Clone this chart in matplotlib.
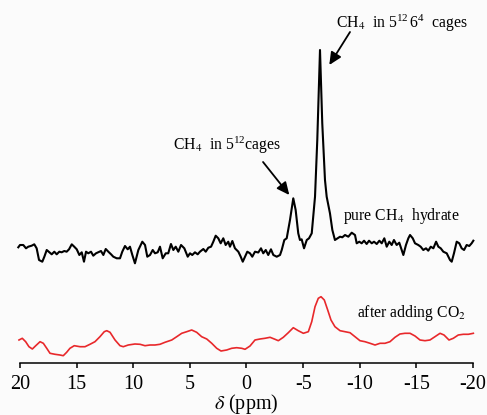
import matplotlib
matplotlib.use("Agg")
import matplotlib.pyplot as plt

plt.rcParams['font.family'] = ['Liberation Serif', 'DejaVu Serif']
plt.rcParams['mathtext.fontset'] = 'stix'

# ---------------- data ----------------
pure_ppm = [20.15, 20.00, 19.71, 19.47, 19.27, 18.97, 18.74, 18.53, 18.32, 18.03,
            17.85, 17.64, 17.41, 17.20, 16.97, 16.76, 16.53, 16.32, 16.09, 15.88,
            15.67, 15.43, 15.21, 14.99, 14.76, 14.55, 14.35, 14.17, 13.97, 13.73,
            13.53, 13.29, 13.09, 12.85, 12.64, 12.43, 12.20, 11.96, 11.76, 11.46,
            11.17, 10.97, 10.73, 10.49, 10.29, 10.08, 9.85, 9.55, 9.20, 8.96,
            8.76, 8.52, 8.28, 8.08, 7.84, 7.64, 7.40, 7.13, 6.91, 6.67,
            6.46, 6.25, 6.02, 5.78, 5.49, 5.19, 4.99, 4.79, 4.55, 4.31,
            4.11, 3.81, 3.60, 3.37, 3.13, 2.93, 2.72, 2.49, 2.28, 2.05,
            1.84, 1.61, 1.46, 1.25, 1.02, 0.72, 0.51, 0.33, 0.13, -0.07,
            -0.31, -0.51, -0.75, -1.04, -1.28, -1.48, -1.70, -1.92, -2.16, -2.37,
            -2.67, -2.96, -3.11, -3.34, -3.55, -3.84, -4.13, -4.34, -4.57, -4.72,
            -4.87, -5.08, -5.32, -5.52, -5.76, -6.05, -6.25, -6.49, -6.69, -6.93,
            -7.08, -7.37, -7.58, -7.81, -8.05, -8.26, -8.46, -8.70, -8.99, -9.29,
            -9.58, -9.73, -9.96, -10.17, -10.38, -10.61, -10.82, -11.06, -11.26, -11.50,
            -11.73, -11.94, -12.17, -12.38, -12.61, -12.82, -13.02, -13.26, -13.49, -13.70,
            -13.85, -14.08, -14.29, -14.44, -14.68, -14.88, -15.17, -15.38, -15.61, -15.85,
            -16.05, -16.27, -16.50, -16.74, -16.94, -17.15, -17.38, -17.68, -17.97, -18.12,
            -18.32, -18.56, -18.79, -19.00, -19.21, -19.44, -19.67, -19.88, -20.03]
pure_int = [2.7, 5, 5, 1.7, 3.3, 4.3, 5.7, 1.7, -10, -11.7,
            -6.7, 0, -2.3, -4.3, -1.7, -4.3, -1.7, -2.3, -1, -1.7,
            0.7, 5.7, 3.3, 0.7, -5, -2.3, -11.7, -1.7, -3.3, -1.7,
            -5.7, -3.3, -2.3, -1, -5, 1, -1.7, -4.3, -6.7, -8.3,
            -8.3, -1.7, 4, 0.7, 3.3, -5, -13.3, 0, 8.3, 5,
            -6.7, -5, 0, -3.3, -2.3, 3.3, -8.3, -3.3, -3.3, 6,
            0, 3.3, -1.7, 5, 1.7, -6.7, -3.3, -5, -2.3, -4.3,
            -1.7, 1, -1.7, 2.3, 3.3, 8.3, 14.3, 11.7, 6.7, 11.7,
            5, 8.3, 3.3, 9, 1.7, -1.7, -6.7, -11.7, -6.7, -1.7,
            -3.3, -6.7, -1.7, -2.5, 1.7, -3.3, 0, -5, 0.7, -5,
            -6.7, -5, 0, 10, 11.7, 30, 51.7, 40, 16.7, 10,
            10.7, 1.7, 10, 11.7, 16.7, 53.3, 110, 200, 126.7, 70,
            53.3, 36.7, 20, 10, 11.7, 13.3, 12.7, 15, 13.3, 17.3,
            15, 6.7, 8.3, 6.7, 9.3, 6, 9.3, 6.7, 8.3, 6,
            9.3, 6.7, 11.7, 3.3, 8.3, 5, 10, 5, 7.3, 0,
            -5, 5, 11.7, 15, 11.7, 6.7, 5, 3.3, 0, 1.7,
            -0.7, 3.3, 1.7, 8.3, 3.3, 1.7, -1.7, -3.3, -10, -11.7,
            -3.3, 8.3, 6.7, 1.7, 0, 5, 4, 6.7, 9.3]

co2_ppm = [20.09, 19.80, 19.50, 19.21, 18.91, 18.61, 18.23, 17.94, 17.64, 17.35,
           16.91, 16.47, 16.18, 15.88, 15.59, 15.21, 14.70, 14.26, 13.82, 13.38,
           12.94, 12.56, 12.34, 12.05, 11.61, 11.17, 10.88, 10.44, 9.85, 9.40,
           8.96, 8.52, 8.08, 7.64, 7.20, 6.60, 6.16, 5.72, 5.28, 4.84,
           4.40, 3.96, 3.51, 3.07, 2.63, 2.25, 1.75, 1.31, 0.87, 0.42,
           0.13, -0.31, -0.75, -1.19, -1.63, -2.08, -2.52, -2.81, -3.25, -3.69,
           -4.13, -4.57, -5.02, -5.46, -5.76, -6.05, -6.34, -6.58, -6.87, -7.17,
           -7.46, -7.81, -8.26, -8.70, -9.14, -9.58, -10.02, -10.46, -10.91, -11.35,
           -11.79, -12.23, -12.67, -13.11, -13.55, -13.99, -14.44, -14.88, -15.32, -15.76,
           -16.20, -16.64, -17.09, -17.44, -17.88, -18.26, -18.70, -19.14, -19.59, -20.03]
co2_int = [5, 6.7, 3.3, -1.7, -4, -0.7, 3.3, 1.7, -3.3, -8.3,
           -9.3, -10, -10.7, -7.3, -3.3, -0.7, -1.7, -1.7, 0.7, 3.3,
           8.3, 13.3, 14.3, 12.7, 5, -0.7, -1.7, 0, 1, 0.7,
           -0.7, 0, 0, 0.7, 2.7, 5, 8.3, 11.7, 13.3, 15,
           12.7, 8.3, 6, 1.7, -3.3, -6, -5, -3.3, -2.7, -3.3,
           -4.3, -1, 5, 6, 6.7, 7.7, 5.7, 4.3, 7.7, 12.3,
           17.3, 14.3, 11.7, 13.3, 23.3, 38.3, 46.7, 48.3, 45, 35,
           25, 18.3, 14.3, 13.3, 12.3, 8.3, 4.3, 3.3, 1.7, 0,
           1.7, 1.7, 3.3, 7.7, 11, 11.7, 11.7, 9, 5, 4.3,
           5, 8.3, 11.7, 10, 5, 6.7, 10, 10.7, 10.7, 11.7]

ticks = [20, 15, 10, 5, 0, -5, -10, -15, -20]
tick_labels = ['20', '15', '10', '5', '0', '-5', '-10', '-15', '-20']
pure_offset = 113
co2_offset = 18

# ---------------- figure ----------------
W, H, DPI = 487, 415, 100
fig = plt.figure(figsize=(W / DPI, H / DPI), dpi=DPI, facecolor='#fbfbfb')
ax = fig.add_axes([20 / W, 52 / H, 453 / W, 363 / H])
ax.set_facecolor('none')

ax.plot(pure_ppm, [v + pure_offset for v in pure_int], color='black', lw=1.5,
        clip_on=False, solid_joinstyle='round')
ax.plot(co2_ppm, [v + co2_offset for v in co2_int], color='#e8282b', lw=1.2,
        clip_on=False, solid_joinstyle='round')

ax.set_xlim(20, -20)
ax.set_ylim(0, 363)
for s in ['left', 'right', 'top']:
    ax.spines[s].set_visible(False)
ax.spines['bottom'].set_linewidth(1.1)
ax.set_yticks([])
ax.set_xticks(ticks)
ax.set_xticklabels(tick_labels)
ax.tick_params(axis='x', direction='out', length=3.5, width=1.1, pad=5,
               labelsize=14.5)
ax.set_xlabel(r'$\delta$ (ppm)', fontsize=14.5, labelpad=-1)

fs = 11.3
ax.text(-7.90, 334.7, r'CH$_4$  in $\mathregular{5^{12}\,6^{4}}$  cages', fontsize=fs,
        ha='left', va='baseline')
ax.text(6.52, 213, r'CH$_4$  in $\mathregular{5^{12}}$cages', fontsize=fs,
        ha='left', va='baseline')
ax.text(-8.49, 143, r'pure CH$_4$  hydrate', fontsize=fs,
        ha='left', va='baseline')
ax.text(-9.78, 46.3, r'after adding CO$_2$', fontsize=fs,
        ha='left', va='baseline')

arrow = dict(arrowstyle='-|>,head_length=0.75,head_width=0.35', color='black',
             lw=1.3, shrinkA=0, shrinkB=0)
ax.annotate('', xy=(-3.78, 168), xytext=(-1.46, 201), arrowprops=arrow)
ax.annotate('', xy=(-7.31, 298), xytext=(-9.14, 331), arrowprops=arrow)

fig.savefig('out.png', dpi=DPI, facecolor=fig.get_facecolor())
